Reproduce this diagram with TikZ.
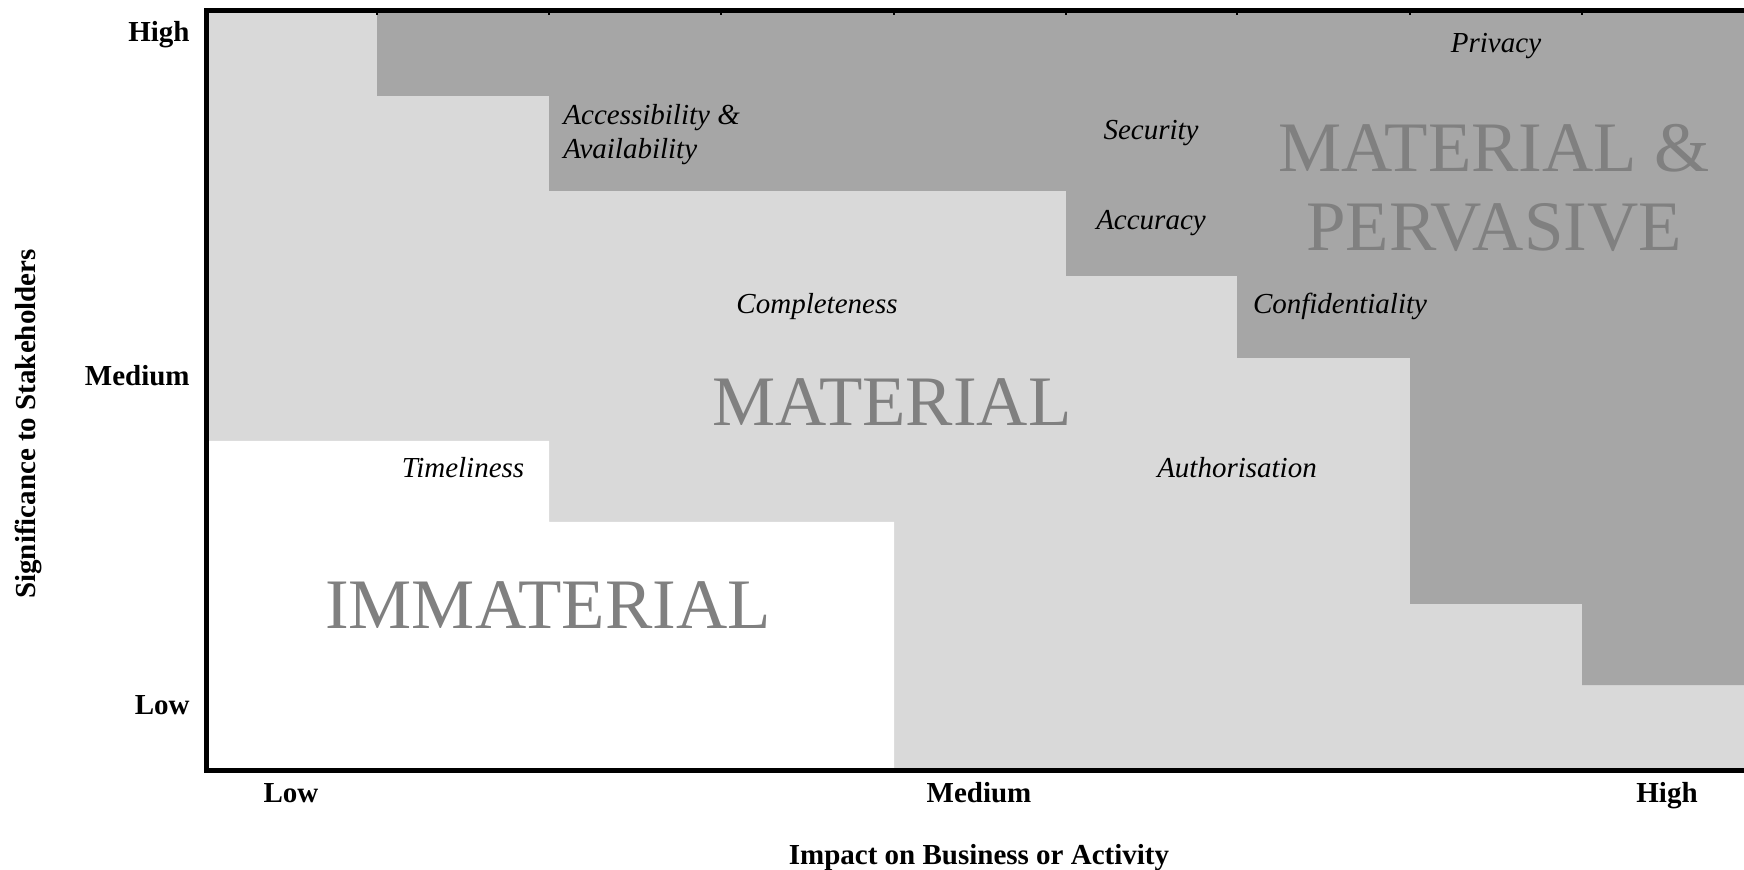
\documentclass[tikz,border=0pt]{standalone}
\usepackage{fontspec}
\setmainfont{Liberation Serif}
\definecolor{lightzone}{HTML}{D9D9D9}
\definecolor{darkzone}{HTML}{A6A6A6}
\definecolor{zonetext}{HTML}{808080}
\begin{document}
\begin{tikzpicture}[x=0.5pt,y=-0.5pt,
  item/.style={font=\fontsize{14.5}{17}\selectfont\itshape, inner sep=0pt, anchor=base},
  axlbl/.style={font=\fontsize{14.5}{17}\selectfont\bfseries, inner sep=0pt, anchor=base},
  zone/.style={font=\fontsize{35.5}{39.5}\selectfont, text=zonetext, inner sep=0pt, align=center},
  axis line/.style={line width=2.5pt, line join=miter},
  tick/.style={line width=0.8pt},
]
\useasboundingbox (0,0) rectangle (1744,870);

% whole plot area: material
\fill[lightzone] (206,11) rectangle (1744,770);
% immaterial corner
\fill[white] (206,441) -- (549,441) -- (549,522) -- (894,522) -- (894,770) -- (206,770) -- cycle;
% material & pervasive staircase
\fill[darkzone] (377,11) -- (1744,11) -- (1744,685) -- (1582,685) -- (1582,604)
  -- (1410,604) -- (1410,358) -- (1237,358) -- (1237,276) -- (1066,276)
  -- (1066,191) -- (549,191) -- (549,96) -- (377,96) -- cycle;

% axes
\draw[axis line] (1744,11) -- (206,11) -- (206,770) -- (1744,770);
\foreach \tx in {377,549,721,894,1066,1237,1410,1582}
  \draw[tick] (\tx,11) -- (\tx,15);

% zone names
\node[zone] (pervasive) at (1494,188) {MATERIAL \&\\PERVASIVE};
\node[zone] (material) at (892,402) {MATERIAL};
\node[zone] (immaterial) at (548,605) {IMMATERIAL};

% attributes
\node[item] (privacy) at (1496,53) {Privacy};
\node[item, anchor=west, align=left] (access) at (563,134.5) {Accessibility \&\\Availability};
\node[item] (security) at (1151,140) {Security};
\node[item] (accuracy) at (1151,230) {Accuracy};
\node[item] (complete) at (817,314) {Completeness};
\node[item] (confid) at (1340,314) {Confidentiality};
\node[item] (timely) at (463,478) {Timeliness};
\node[item] (author) at (1237,478) {Authorisation};

% axis labels
\node[axlbl, anchor=base east] (yhigh) at (190,42) {High};
\node[axlbl, anchor=base east] (ymed) at (190,386) {Medium};
\node[axlbl, anchor=base east] (ylow) at (190,714) {Low};
\node[axlbl] (xlow) at (291,802) {Low};
\node[axlbl] (xmed) at (979,802) {Medium};
\node[axlbl] (xhigh) at (1667,802) {High};
\node[axlbl] (xtitle) at (979,864) {Impact on Business or Activity};
\node[axlbl, rotate=90, anchor=center] (ytitle) at (28,424) {Significance to Stakeholders};
\end{tikzpicture}
\end{document}
